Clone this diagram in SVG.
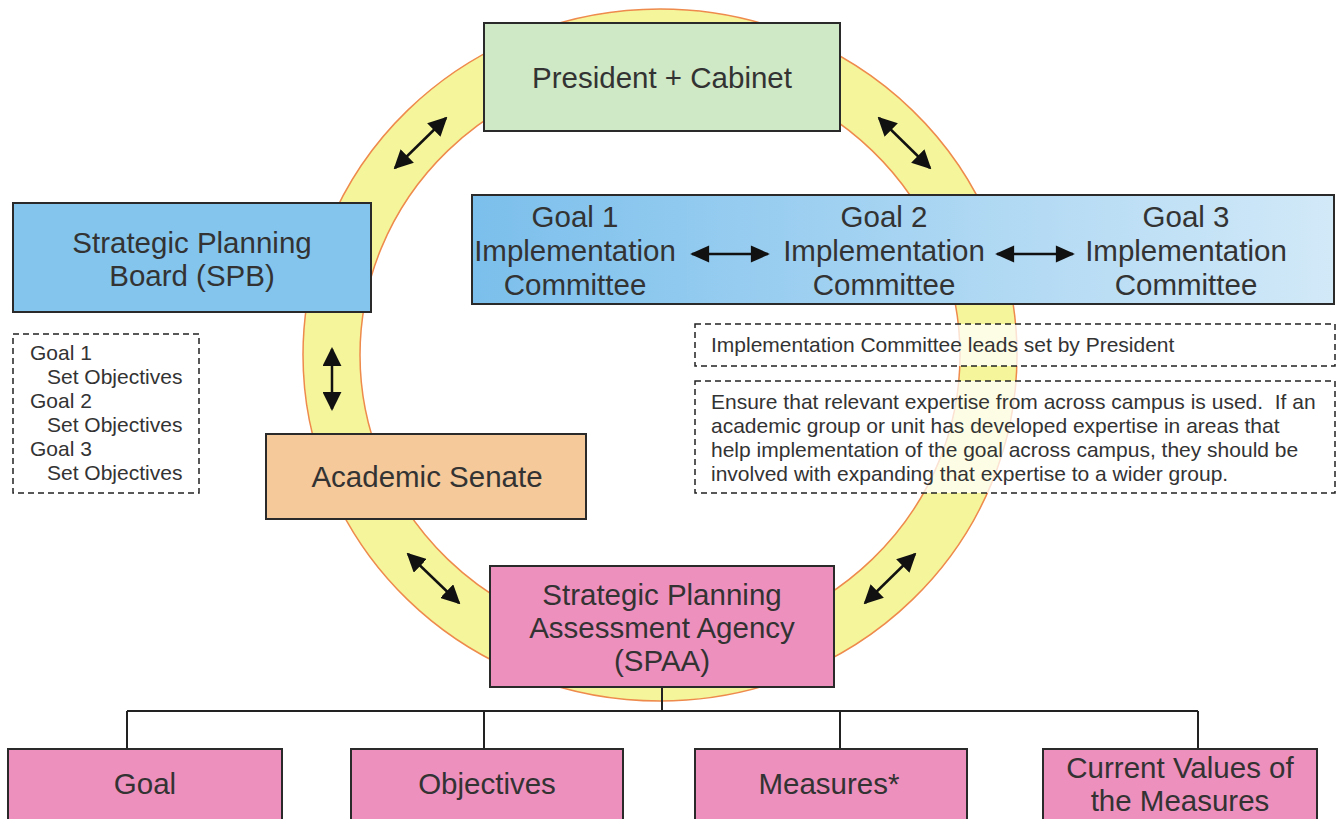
<svg xmlns="http://www.w3.org/2000/svg" width="1337" height="819" viewBox="0 0 1337 819">
<style>
text{font-family:"Liberation Sans",Arial,sans-serif;fill:#333}
.big{font-size:29.5px;text-anchor:middle}
.sm{font-size:21px}
.box{stroke:#2a2a2a;stroke-width:2}
.dash{fill:#fff;fill-opacity:0.75;stroke:#222;stroke-width:1.5;stroke-dasharray:6 4}
.arr{stroke:#111;stroke-width:2.5;fill:none;marker-start:url(#ah);marker-end:url(#ah)}
.arr2{stroke:#111;stroke-width:2.5;fill:none;marker-start:url(#ah2);marker-end:url(#ah2)}
.tree{stroke:#222;stroke-width:2;fill:none}
</style>
<defs>
<marker id="ah" viewBox="0 0 10 10" refX="9" refY="5" markerUnits="userSpaceOnUse" markerWidth="19" markerHeight="19" orient="auto-start-reverse"><path d="M0,0 L10,5 L0,10 z" fill="#111"/></marker>
<marker id="ah2" viewBox="0 0 10 10" refX="9" refY="5" markerUnits="userSpaceOnUse" markerWidth="20" markerHeight="19" orient="auto-start-reverse"><path d="M0,0.5 L10,5 L0,9.5 z" fill="#111"/></marker>
<linearGradient id="gblue" x1="0" y1="0" x2="1" y2="0">
<stop offset="0" stop-color="#7bbfec"/>
<stop offset="1" stop-color="#d2e9f8"/>
</linearGradient>
</defs>
<rect width="1337" height="819" fill="#fff"/>
<g id="ring">
<path d="M303,355 a357,346 0 1,0 714,0 a357,346 0 1,0 -714,0 Z M360,355 a300,289 0 1,0 600,0 a300,289 0 1,0 -600,0 Z" fill="#f5f59b" fill-rule="evenodd" stroke="#ee8a4c" stroke-width="1.5"/>
</g>
<g id="connectors">
<line class="arr" x1="395" y1="168" x2="446" y2="118"/>
<line class="arr" x1="879" y1="118" x2="930" y2="168"/>
<line class="arr" x1="332" y1="349" x2="332" y2="409"/>
<line class="arr" x1="408" y1="554" x2="459" y2="603"/>
<line class="arr" x1="915" y1="554" x2="865" y2="603"/>
<path class="tree" d="M662,687 V711 M127,711 H1198 M127,711 V749 M484,711 V749 M840,711 V749 M1198,711 V749"/>
</g>
<g id="president">
<rect class="box" x="484" y="23" width="356" height="108" fill="#cfe8c5"/>
<text class="big" x="662" y="88">President + Cabinet</text>
</g>
<g id="spb">
<rect class="box" x="13" y="203" width="358" height="109" fill="#84c5ee"/>
<text class="big" x="192" y="253">Strategic Planning</text>
<text class="big" x="192" y="286">Board (SPB)</text>
</g>
<g id="goals-committees">
<rect class="box" x="472" y="195" width="862" height="109" fill="url(#gblue)"/>
<text class="big" x="575" y="227">Goal 1</text>
<text class="big" x="575" y="261">Implementation</text>
<text class="big" x="575" y="295">Committee</text>
<text class="big" x="884" y="227">Goal 2</text>
<text class="big" x="884" y="261">Implementation</text>
<text class="big" x="884" y="295">Committee</text>
<text class="big" x="1186" y="227">Goal 3</text>
<text class="big" x="1186" y="261">Implementation</text>
<text class="big" x="1186" y="295">Committee</text>
<line class="arr2" x1="692" y1="254" x2="768" y2="254"/>
<line class="arr2" x1="997" y1="254" x2="1073" y2="254"/>
</g>
<g id="objectives-note">
<rect class="dash" x="13" y="334" width="186" height="159"/>
<text class="sm" x="30" y="360">Goal 1</text>
<text class="sm" x="47" y="384">Set Objectives</text>
<text class="sm" x="30" y="408">Goal 2</text>
<text class="sm" x="47" y="432">Set Objectives</text>
<text class="sm" x="30" y="456">Goal 3</text>
<text class="sm" x="47" y="480">Set Objectives</text>
</g>
<g id="leads-note">
<rect class="dash" x="695" y="324" width="640" height="42"/>
<text class="sm" x="711" y="352">Implementation Committee leads set by President</text>
</g>
<g id="expertise-note">
<rect class="dash" x="695" y="381" width="640" height="112"/>
<text class="sm" x="711" y="409">Ensure that relevant expertise from across campus is used.&#160; If an</text>
<text class="sm" x="711" y="433">academic group or unit has developed expertise in areas that</text>
<text class="sm" x="711" y="457">help implementation of the goal across campus, they should be</text>
<text class="sm" x="711" y="481">involved with expanding that expertise to a wider group.</text>
</g>
<g id="senate">
<rect class="box" x="266" y="434" width="320" height="85" fill="#f5c99a"/>
<text class="big" x="427" y="487">Academic Senate</text>
</g>
<g id="spaa">
<rect class="box" x="490" y="566" width="344" height="121" fill="#ee90bd"/>
<text class="big" x="662" y="605">Strategic Planning</text>
<text class="big" x="662" y="638">Assessment Agency</text>
<text class="big" x="662" y="671">(SPAA)</text>
</g>
<g id="goal">
<rect class="box" x="8" y="749" width="274" height="80" fill="#ee90bd"/>
<text class="big" x="145" y="794">Goal</text>
</g>
<g id="objectives">
<rect class="box" x="351" y="749" width="272" height="80" fill="#ee90bd"/>
<text class="big" x="487" y="794">Objectives</text>
</g>
<g id="measures">
<rect class="box" x="695" y="749" width="272" height="80" fill="#ee90bd"/>
<text class="big" x="829" y="794">Measures*</text>
</g>
<g id="current-values">
<rect class="box" x="1043" y="749" width="274" height="80" fill="#ee90bd"/>
<text class="big" x="1180" y="778">Current Values of</text>
<text class="big" x="1180" y="811">the Measures</text>
</g>
</svg>
